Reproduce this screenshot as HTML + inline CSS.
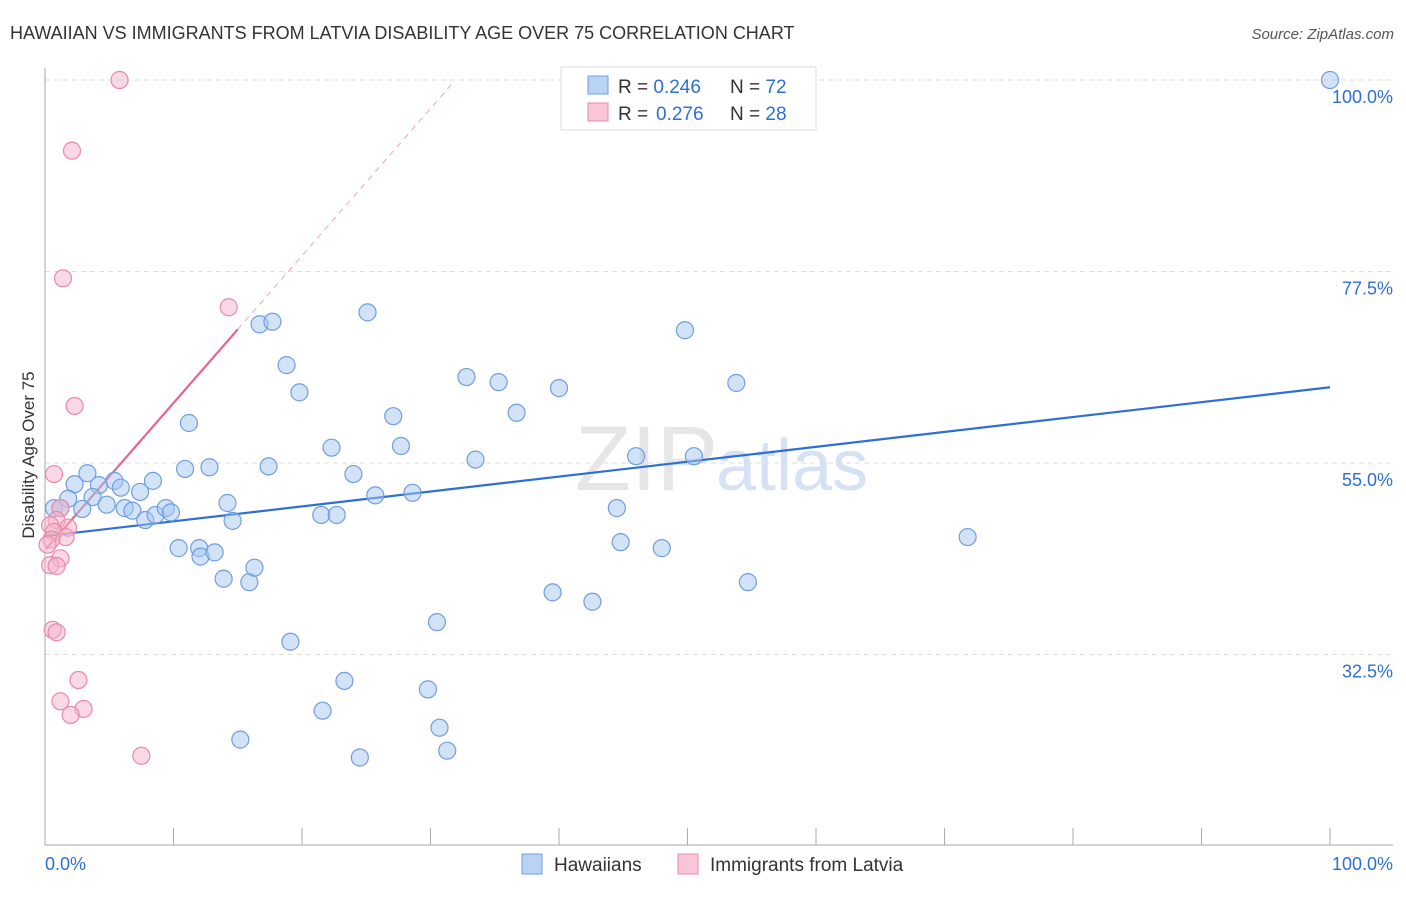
<!DOCTYPE html>
<html><head><meta charset="utf-8"><style>
body{margin:0;background:#fff;font-family:"Liberation Sans",sans-serif}
svg text{font-family:"Liberation Sans",sans-serif}
</style></head><body>
<svg width="1406" height="892" xmlns="http://www.w3.org/2000/svg" id="chart">
<text x="10" y="39" font-size="18" fill="#333">HAWAIIAN VS IMMIGRANTS FROM LATVIA DISABILITY AGE OVER 75 CORRELATION CHART</text>
<text x="1394" y="39" font-size="15" fill="#555" text-anchor="end" font-style="italic">Source: ZipAtlas.com</text>
<text x="34" y="455" font-size="17" fill="#333" text-anchor="middle" transform="rotate(-90 34 455)">Disability Age Over 75</text>
<text x="718" y="490" font-size="92" fill="#e6e6e6" text-anchor="end" font-family="Liberation Serif">ZIP</text>
<text x="716" y="490" font-size="72" fill="#d6e2f3">atlas</text>
<g id="grid"></g><g id="axes"></g><g id="lines"></g><g id="pts"></g>
<g>
<rect x="561" y="67" width="255" height="63" fill="#fff" stroke="#ddd"/>
<rect x="588" y="76" width="20" height="18" fill="#b9d3f5" stroke="#6f9ee0"/>
<rect x="588" y="103" width="20" height="18" fill="#f8c6d6" stroke="#e98aa8"/>
<text x="618" y="93" font-size="19" fill="#333">R = <tspan fill="#2d6fd4">0.246</tspan></text>
<text x="730" y="93" font-size="19" fill="#333">N = <tspan fill="#2d6fd4">72</tspan></text>
<text x="618" y="120" font-size="19" fill="#333">R = <tspan fill="#2d6fd4" x="656">0.276</tspan></text>
<text x="730" y="120" font-size="19" fill="#333">N = <tspan fill="#2d6fd4">28</tspan></text>
</g>
<rect x="522" y="854" width="20" height="20" fill="#b9d3f5" stroke="#6f9ee0"/>
<text x="554" y="871" font-size="19" fill="#333">Hawaiians</text>
<rect x="678" y="854" width="20" height="20" fill="#f8c6d6" stroke="#e98aa8"/>
<text x="710" y="871" font-size="19" fill="#333">Immigrants from Latvia</text>
</svg>
<script>
const blueX=[100,16.7,17.7,25.1,49.8,18.8,19.8,32.8,35.3,40.0,53.8,11.2,27.1,36.7,22.3,27.7,33.5,46.0,50.5,10.9,12.8,17.4,24.0,3.3,2.3,4.2,5.4,5.9,8.4,7.4,1.8,3.7,25.7,28.6,0.7,1.2,2.9,4.8,6.2,6.8,7.8,8.6,9.4,9.8,14.2,14.6,21.5,22.7,44.5,10.4,12.0,12.1,13.2,44.8,48.0,71.8,13.9,15.9,16.3,54.7,39.5,42.6,30.5,19.1,23.3,29.8,21.6,30.7,31.3,15.2,24.5];
const blueY=[100,71.3,71.6,72.7,70.6,66.5,63.3,65.1,64.5,63.8,64.4,59.7,60.5,60.9,56.8,57.0,55.4,55.8,55.8,54.3,54.5,54.6,53.7,53.8,52.5,52.4,52.9,52.1,52.9,51.6,50.8,51.0,51.2,51.5,49.7,49.7,49.6,50.1,49.7,49.4,48.3,48.9,49.7,49.2,50.3,48.2,48.9,48.9,49.7,45.0,45.0,44.0,44.5,45.7,45.0,46.3,41.4,41.0,42.7,41.0,39.8,38.7,36.3,34.0,29.4,28.4,25.9,23.9,21.2,22.5,20.4];
const pinkX=[5.8,2.1,1.4,14.3,2.3,0.7,1.2,0.9,0.4,1.8,0.7,1.6,0.5,0.2,1.2,0.4,0.9,0.6,0.9,2.6,1.2,3.0,2.0,7.5];
const pinkY=[100,91.7,76.7,73.3,61.7,53.7,49.7,48.3,47.7,47.4,46.9,46.3,46.0,45.4,43.8,43.0,42.9,35.4,35.1,29.5,27.0,26.1,25.4,20.6];
const blueTrend=[46.4,63.9];
const pinkTrend=[44.75,1.73];
const yTicks=[100,77.5,55,32.5];
const yTickLabels=["100.0%","77.5%","55.0%","32.5%"];
const NS="http://www.w3.org/2000/svg";
const X=v=>45+v*12.85, Y=v=>463-(v-55)*8.511;
function mk(p,t,a){const e=document.createElementNS(NS,t);for(const k in a)e.setAttribute(k,a[k]);document.getElementById(p).appendChild(e);return e;}
yTicks.forEach((t,i)=>{
 const g=mk('grid','line',{x1:45,x2:1393,y1:Y(t),y2:Y(t),stroke:'#ddd','stroke-dasharray':'5,4'});
 
 
 const l=mk('grid','text',{x:1393,y:Y(t)+23,'font-size':18,fill:'#2d6fd4','text-anchor':'end'});l.textContent=yTickLabels[i];
 
 
});
let a=mk('axes','line',{x1:45,x2:45,y1:68,y2:845,stroke:'#aaa'});


a=mk('axes','line',{x1:45,x2:1393,y1:845,y2:845,stroke:'#aaa'});


for(let i=1;i<=10;i++){const t=mk('axes','line',{x1:X(i*10),x2:X(i*10),y1:828,y2:845,stroke:'#aaa'});
 
 }
let xl=mk('axes','text',{x:45,y:870,'font-size':18,fill:'#2d6fd4'});xl.textContent='0.0%';


xl=mk('axes','text',{x:1393,y:870,'font-size':18,fill:'#2d6fd4','text-anchor':'end'});xl.textContent='100.0%';


blueX.forEach((x,i)=>{const c=mk('pts','circle',{cx:X(x),cy:Y(blueY[i]),r:8.5,fill:'rgba(165,198,240,0.5)',stroke:'#6f9ee0','stroke-width':1.2});
 
 });
pinkX.forEach((x,i)=>{const c=mk('pts','circle',{cx:X(x),cy:Y(pinkY[i]),r:8.5,fill:'rgba(246,180,202,0.5)',stroke:'#e98aa8','stroke-width':1.2});
 
 });
let tl=mk('lines','line',{x1:X(0),y1:Y(blueTrend[0]),x2:X(100),y2:Y(blueTrend[1]),stroke:'#2d6fd4','stroke-width':2.2});


const pv=x=>pinkTrend[0]+pinkTrend[1]*x;
tl=mk('lines','line',{x1:X(0.1),y1:Y(pv(0.1)),x2:X(15),y2:Y(pv(15)),stroke:'#e8648f','stroke-width':2.2});


tl=mk('lines','line',{x1:X(15),y1:Y(pv(15)),x2:X(31.6),y2:Y(pv(31.6)),stroke:'#f0a5bd','stroke-width':1,'stroke-dasharray':'6,5'});


</script>
</body></html>
